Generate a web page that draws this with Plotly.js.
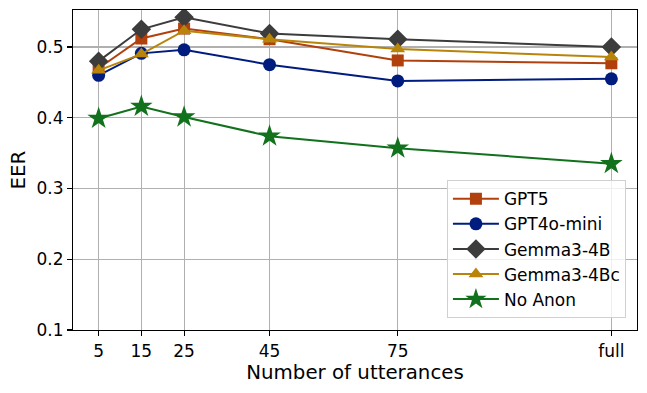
<!DOCTYPE html>
<html>
<head>
<meta charset="utf-8">
<script src="https://cdn.plot.ly/plotly-3.0.1.min.js"></script>
<style>
  html, body { margin: 0; padding: 0; background: #fff; }
  #chart { width: 647px; height: 393px; }
</style>
</head>
<body>
<div id="chart"></div>
<script>
// x positions ("full" sits at 125 on the numeric axis)
const xVals = [5, 15, 25, 45, 75, 125];
const xLabels = ['5', '15', '25', '45', '75', 'full'];

// EER per system
const gpt5 = [0.470, 0.512, 0.526, 0.511, 0.481, 0.477];
const gpt4oMini = [0.460, 0.491, 0.496, 0.475, 0.452, 0.455];
const gemma4b = [0.480, 0.525, 0.542, 0.519, 0.511, 0.500];
const gemma4bc = [0.467, 0.490, 0.523, 0.511, 0.497, 0.486];
const noAnon = [0.399, 0.416, 0.401, 0.374, 0.357, 0.335];

const names = ['GPT5', 'GPT4o-mini', 'Gemma3-4B', 'Gemma3-4Bc', 'No Anon'];
const colors = ['#b1400d', '#001c7f', '#3c3c3c', '#b8850a', '#12711c'];
const symbols = ['square', 'circle', 'diamond', 'triangle-up', 'star'];
const sizes = [12, 13, 15, 13, 17];

const series = [gpt5, gpt4oMini, gemma4b, gemma4bc, noAnon];

const traces = series.map((ys, i) => ({
    type: 'scatter',
    mode: 'lines+markers',
    x: xVals,
    y: ys,
    name: names[i],
    line: { color: colors[i], width: 2 },
    marker: { color: colors[i], symbol: symbols[i], size: sizes[i], line: { width: 0 } }
}));

const font = { family: 'DejaVu Sans, sans-serif', color: '#000' };

const layout = {
    width: 647,
    height: 393,
    margin: { l: 73, r: 10, t: 10, b: 63 },
    paper_bgcolor: '#fff',
    plot_bgcolor: '#fff',
    font: Object.assign({ size: 17 }, font),
    showlegend: true,
    legend: {
        x: 0.663, y: 0.037, xanchor: 'left', yanchor: 'bottom',
        bgcolor: 'rgba(255,255,255,0.8)',
        bordercolor: '#d0d0d0', borderwidth: 1,
        font: Object.assign({ size: 17 }, font),
        itemwidth: 46,
        tracegroupgap: 0
    },
    xaxis: {
        range: [-1, 131],
        tickvals: xVals,
        ticktext: xLabels,
        ticks: 'outside', ticklen: 5, tickwidth: 1.1, tickcolor: '#000',
        showgrid: true, gridcolor: '#b0b0b0', gridwidth: 1.1,
        showline: true, linecolor: '#000', linewidth: 1.1, mirror: true,
        zeroline: false,
        tickfont: Object.assign({ size: 17 }, font),
        title: { text: 'Number of utterances', font: Object.assign({ size: 19.8 }, font), standoff: 5 }
    },
    yaxis: {
        range: [0.1, 0.5523],
        tickvals: [0.1, 0.2, 0.3, 0.4, 0.5],
        tickformat: '.1f',
        ticks: 'outside', ticklen: 5, tickwidth: 1.1, tickcolor: '#000',
        showgrid: true, gridcolor: '#b0b0b0', gridwidth: 1.1,
        showline: true, linecolor: '#000', linewidth: 1.1, mirror: true,
        zeroline: false,
        tickfont: Object.assign({ size: 17 }, font),
        title: { text: 'EER', font: Object.assign({ size: 19.8 }, font), standoff: 5 }
    }
};

Plotly.newPlot('chart', traces, layout, { displayModeBar: false, staticPlot: true });
</script>
</body>
</html>
